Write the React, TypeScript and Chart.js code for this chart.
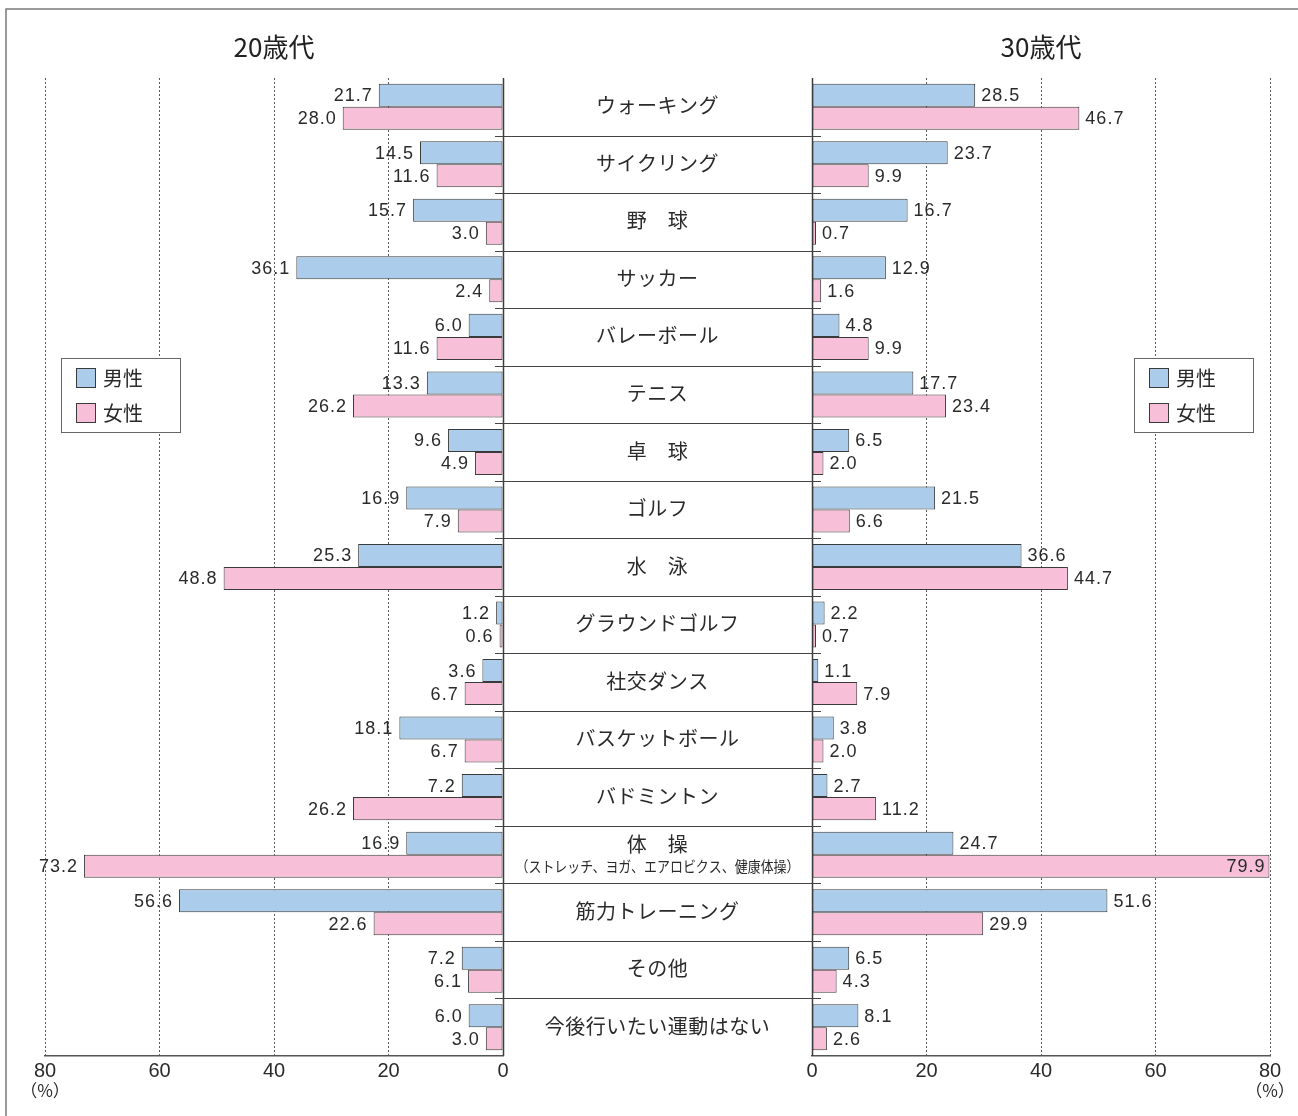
import React, { useEffect, useRef } from "react";
import { Chart, registerables } from "chart.js";

Chart.register(...registerables);

const W = 1298;
const H = 1116;

const categories = [
  "ウォーキング",
  "サイクリング",
  "野　球",
  "サッカー",
  "バレーボール",
  "テニス",
  "卓　球",
  "ゴルフ",
  "水　泳",
  "グラウンドゴルフ",
  "社交ダンス",
  "バスケットボール",
  "バドミントン",
  "体　操",
  "筋力トレーニング",
  "その他",
  "今後行いたい運動はない",
];
const categoryNotes: Record<number, string> = {
  13: "（ストレッチ、ヨガ、エアロビクス、健康体操）",
};

const male20 = [21.7, 14.5, 15.7, 36.1, 6.0, 13.3, 9.6, 16.9, 25.3, 1.2, 3.6, 18.1, 7.2, 16.9, 56.6, 7.2, 6.0];
const female20 = [28.0, 11.6, 3.0, 2.4, 11.6, 26.2, 4.9, 7.9, 48.8, 0.6, 6.7, 6.7, 26.2, 73.2, 22.6, 6.1, 3.0];
const male30 = [28.5, 23.7, 16.7, 12.9, 4.8, 17.7, 6.5, 21.5, 36.6, 2.2, 1.1, 3.8, 2.7, 24.7, 51.6, 6.5, 8.1];
const female30 = [46.7, 9.9, 0.7, 1.6, 9.9, 23.4, 2.0, 6.6, 44.7, 0.7, 7.9, 2.0, 11.2, 79.9, 29.9, 4.3, 2.6];

const seriesNames = ["男性", "女性"];
const panelTitles = ["20歳代", "30歳代"];
const xMin = 0;
const xMax = 80;
const xStep = 20;
const unitLabel = "（%）";

const BLUE = "#abcdeb";
const PINK = "#f7bfd8";
const EDGE = "#3a3a3a";
const TEXT = "#2a2a2a";
const FONT_JP = '"Noto Sans CJK JP", "Noto Sans", sans-serif';
const FONT_NUM = '"Liberation Sans", Arial, sans-serif';

// layout constants (pixels)
const TOP = 78;
const BOTTOM = 1056;
const LEFT_PANEL = [45, 503];
const RIGHT_PANEL = [812, 1270];
const AXIS_H = 40;

function drawLegend(ctx: CanvasRenderingContext2D, bx: number, by: number) {
  ctx.save();
  ctx.fillStyle = "#fff";
  ctx.fillRect(bx, by, 119, 74);
  ctx.strokeStyle = "#666";
  ctx.lineWidth = 1;
  ctx.strokeRect(bx + 0.5, by + 0.5, 119, 74);
  const cols = [BLUE, PINK];
  seriesNames.forEach((name, i) => {
    const sy = by + 10 + i * 35;
    ctx.fillStyle = cols[i];
    ctx.fillRect(bx + 15, sy, 19, 19);
    ctx.strokeStyle = EDGE;
    ctx.strokeRect(bx + 15.5, sy + 0.5, 19, 19);
    ctx.fillStyle = TEXT;
    ctx.font = `20px ${FONT_JP}`;
    ctx.textAlign = "left";
    ctx.textBaseline = "middle";
    ctx.fillText(name, bx + 42, sy + 10);
  });
  ctx.restore();
}

function makePlugin(side: "left" | "right") {
  return {
    id: "custom_" + side,
    afterDatasetsDraw(chart: any) {
      const ctx: CanvasRenderingContext2D = chart.ctx;
      const ca = chart.chartArea;
      const x = chart.scales.x;
      const y = chart.scales.y;
      ctx.save();

      // zero axis line
      const zx = Math.round(x.getPixelForValue(0)) + 0.5;
      ctx.strokeStyle = "#3c3c3c";
      ctx.lineWidth = 1.5;
      ctx.beginPath();
      ctx.moveTo(zx, ca.top);
      ctx.lineTo(zx, ca.bottom);
      ctx.stroke();

      // value labels
      ctx.font = `18px ${FONT_NUM}`;
      ctx.fillStyle = TEXT;
      ctx.textBaseline = "middle";
      (ctx as any).letterSpacing = "1px";
      chart.data.datasets.forEach((ds: any, di: number) => {
        const meta = chart.getDatasetMeta(di);
        meta.data.forEach((el: any, i: number) => {
          const v = ds.data[i] as number;
          const t = v.toFixed(1);
          if (side === "left") {
            ctx.textAlign = "right";
            ctx.fillText(t, el.x - 6, el.y + 1);
          } else {
            const w = ctx.measureText(t).width;
            if (el.x + 6 + w > W - 4) {
              ctx.textAlign = "right";
              ctx.fillText(t, el.x - 4, el.y + 1);
            } else {
              ctx.textAlign = "left";
              ctx.fillText(t, el.x + 6, el.y + 1);
            }
          }
        });
      });
      (ctx as any).letterSpacing = "0px";

      // panel title
      ctx.font = `26px ${FONT_JP}`;
      ctx.textAlign = "center";
      ctx.fillStyle = "#222";
      ctx.fillText(panelTitles[side === "left" ? 0 : 1], (ca.left + ca.right) / 2, 47);

      // unit under 80
      ctx.font = `17px ${FONT_JP}`;
      ctx.fillStyle = TEXT;
      ctx.fillText(unitLabel, x.getPixelForValue(xMax), 1091);

      if (side === "left") {
        // frame
        ctx.strokeStyle = "#7a7a7a";
        ctx.lineWidth = 1.5;
        ctx.beginPath();
        ctx.moveTo(6, H);
        ctx.lineTo(6, 9);
        ctx.lineTo(W, 9);
        ctx.stroke();
        drawLegend(ctx, 61, 358);
      } else {
        drawLegend(ctx, 1134, 358);
        // middle labels & separators
        const midX = (LEFT_PANEL[1] + RIGHT_PANEL[0]) / 2;
        ctx.strokeStyle = "#444";
        ctx.lineWidth = 1;
        for (let i = 0; i < categories.length - 1; i++) {
          const yy = Math.round((y.getPixelForValue(i) + y.getPixelForValue(i + 1)) / 2) + 0.5;
          ctx.beginPath();
          ctx.moveTo(LEFT_PANEL[1] - 8, yy);
          ctx.lineTo(RIGHT_PANEL[0] + 9, yy);
          ctx.stroke();
        }
        ctx.fillStyle = TEXT;
        ctx.textAlign = "center";
        ctx.textBaseline = "middle";
        categories.forEach((c, i) => {
          const cy = y.getPixelForValue(i);
          ctx.font = `20px ${FONT_JP}`;
          (ctx as any).letterSpacing = "0.5px";
          if (categoryNotes[i]) {
            ctx.fillText(c, midX, cy - 10);
            (ctx as any).letterSpacing = "0px";
            ctx.font = `15px ${FONT_JP}`;
            ctx.fillText(categoryNotes[i], midX, cy + 12, 284);
          } else {
            ctx.fillText(c, midX, cy - 1);
          }
        });
        (ctx as any).letterSpacing = "0px";
      }
      ctx.restore();
    },
  };
}

function makeConfig(side: "left" | "right"): any {
  const isLeft = side === "left";
  const panel = isLeft ? LEFT_PANEL : RIGHT_PANEL;
  const m = isLeft ? male20 : male30;
  const f = isLeft ? female20 : female30;
  return {
    type: "bar",
    data: {
      labels: categories,
      datasets: [
        {
          label: seriesNames[0],
          data: m,
          backgroundColor: BLUE,
          borderColor: EDGE,
          borderWidth: 1,
          borderSkipped: false,
          categoryPercentage: 0.8,
          barPercentage: 1.0,
        },
        {
          label: seriesNames[1],
          data: f,
          backgroundColor: PINK,
          borderColor: EDGE,
          borderWidth: 1,
          borderSkipped: false,
          categoryPercentage: 0.8,
          barPercentage: 1.0,
        },
      ],
    },
    options: {
      indexAxis: "y",
      responsive: false,
      animation: false,
      events: [],
      layout: {
        padding: {
          left: panel[0],
          right: W - panel[1],
          top: TOP,
          bottom: H - BOTTOM - AXIS_H,
        },
      },
      plugins: { legend: { display: false }, tooltip: { enabled: false } },
      scales: {
        x: {
          type: "linear",
          min: xMin,
          max: xMax,
          reverse: isLeft,
          afterFit: (s: any) => {
            s.height = AXIS_H;
          },
          ticks: {
            stepSize: xStep,
            color: TEXT,
            padding: 3,
            font: { family: FONT_NUM, size: 20 },
          },
          grid: {
            drawTicks: false,
            lineWidth: 1,
            color: (c: any) => (c.tick && c.tick.value === 0 ? "rgba(0,0,0,0)" : "#5a5a5a"),
          },
          border: { display: true, color: "#555", width: 1.5, dash: [2, 2] },
        },
        y: {
          type: "category",
          display: false,
          offset: true,
        },
      },
    },
    plugins: [makePlugin(side)],
  };
}

export default function App() {
  const leftRef = useRef<HTMLCanvasElement>(null);
  const rightRef = useRef<HTMLCanvasElement>(null);
  useEffect(() => {
    const c1 = new Chart(leftRef.current as HTMLCanvasElement, makeConfig("left"));
    const c2 = new Chart(rightRef.current as HTMLCanvasElement, makeConfig("right"));
    return () => {
      c1.destroy();
      c2.destroy();
    };
  }, []);
  return (
    <div
      style={{
        position: "absolute",
        left: 0,
        top: 0,
        width: W,
        height: H,
        overflow: "hidden",
        background: "#fff",
      }}
    >
      <canvas ref={leftRef} width={W} height={H} style={{ position: "absolute", left: 0, top: 0 }} />
      <canvas ref={rightRef} width={W} height={H} style={{ position: "absolute", left: 0, top: 0 }} />
    </div>
  );
}
